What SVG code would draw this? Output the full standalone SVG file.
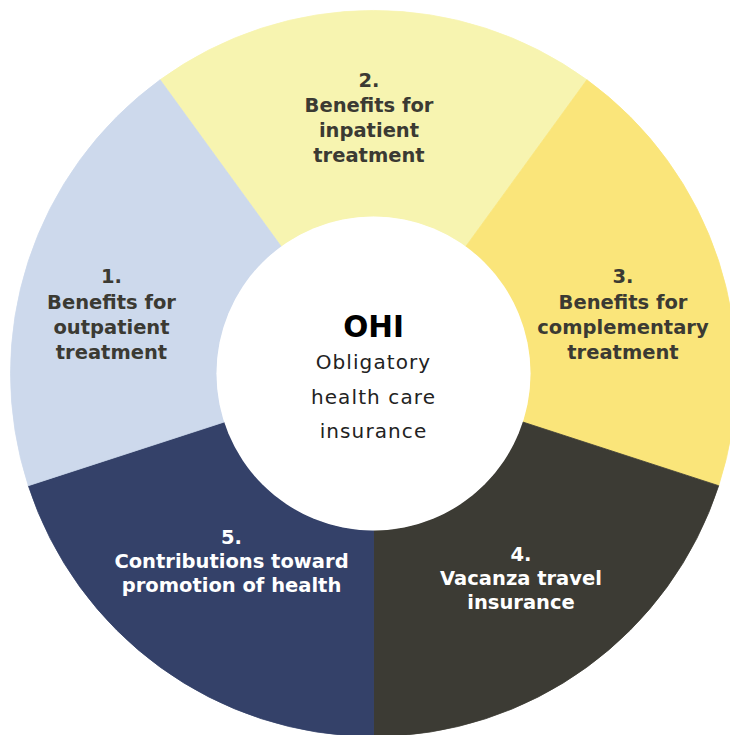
<svg xmlns="http://www.w3.org/2000/svg" width="730" height="735" viewBox="0 0 730 735">
<style>
.lbl{font-family:"DejaVu Sans","Liberation Sans",sans-serif;font-weight:700;font-size:19.5px;text-anchor:middle}
.dark{fill:#3b3a33}
.light{fill:#ffffff}
.ttl{font-family:"DejaVu Sans","Liberation Sans",sans-serif;font-weight:700;font-size:29.5px;text-anchor:middle;fill:#000}
.sub{font-family:"DejaVu Sans","Liberation Sans",sans-serif;font-weight:400;font-size:20px;letter-spacing:1.1px;text-anchor:middle;fill:#222}
</style>
<rect width="730" height="735" fill="#ffffff"/>
<g id="seg2">
<path d="M160.1,79.8 A363,363 0 0 1 586.9,79.8 L465.8,246.5 A157,157 0 0 0 281.2,246.5 Z" fill="#f7f4b0" stroke="#f7f4b0" stroke-width="0.8"/>
<text class="lbl dark" x="369" y="87">2.</text>
<text class="lbl dark" x="369" y="112">Benefits for</text>
<text class="lbl dark" x="369" y="137">inpatient</text>
<text class="lbl dark" x="369" y="162">treatment</text>
</g>
<g id="seg3">
<path d="M586.9,79.8 A363,363 0 0 1 718.7,485.7 L522.8,422 A157,157 0 0 0 465.8,246.5 Z" fill="#fae57a" stroke="#fae57a" stroke-width="0.8"/>
<text class="lbl dark" x="623" y="283">3.</text>
<text class="lbl dark" x="623" y="309">Benefits for</text>
<text class="lbl dark" x="623" y="334">complementary</text>
<text class="lbl dark" x="623" y="359">treatment</text>
</g>
<g id="seg4">
<path d="M718.7,485.7 A363,363 0 0 1 373.5,736.5 L373.5,530.5 A157,157 0 0 0 522.8,422 Z" fill="#3c3b34" stroke="#3c3b34" stroke-width="0.8"/>
<text class="lbl light" x="521" y="561">4.</text>
<text class="lbl light" x="521" y="585">Vacanza travel</text>
<text class="lbl light" x="521" y="609">insurance</text>
</g>
<g id="seg5">
<path d="M373.5,736.5 A363,363 0 0 1 28.3,485.7 L224.2,422 A157,157 0 0 0 373.5,530.5 Z" fill="#344169" stroke="#344169" stroke-width="0.8"/>
<text class="lbl light" x="231.5" y="544">5.</text>
<text class="lbl light" x="231.5" y="568">Contributions toward</text>
<text class="lbl light" x="231.5" y="592">promotion of health</text>
</g>
<g id="seg1">
<path d="M28.3,485.7 A363,363 0 0 1 160.1,79.8 L281.2,246.5 A157,157 0 0 0 224.2,422 Z" fill="#cdd9ec" stroke="#cdd9ec" stroke-width="0.8"/>
<text class="lbl dark" x="111.5" y="283">1.</text>
<text class="lbl dark" x="111.5" y="309">Benefits for</text>
<text class="lbl dark" x="111.5" y="334">outpatient</text>
<text class="lbl dark" x="111.5" y="359">treatment</text>
</g>
<g id="center">
<circle cx="373.5" cy="373.5" r="157" fill="#ffffff"/>
<text class="ttl" x="373.5" y="337">OHI</text>
<text class="sub" x="373.5" y="369">Obligatory</text>
<text class="sub" x="373.5" y="404">health care</text>
<text class="sub" x="373.5" y="438">insurance</text>
</g>
<g id="connectors"></g>
</svg>
